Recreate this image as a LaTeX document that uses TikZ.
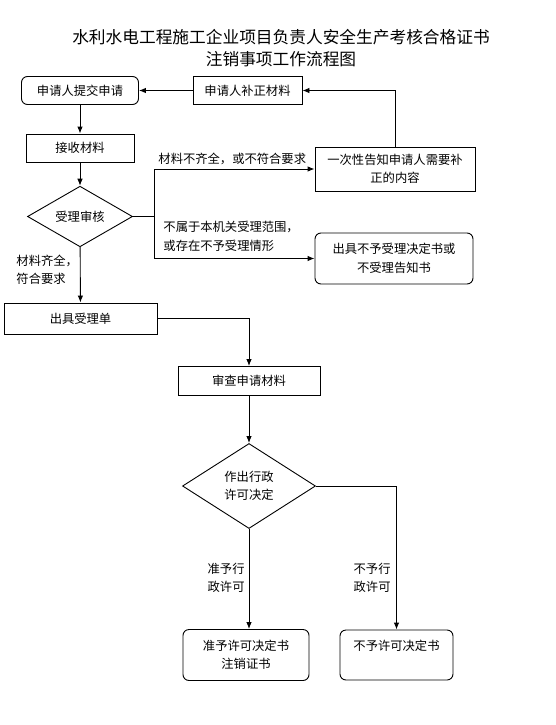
\documentclass[tikz,border=0pt]{standalone}
\usepackage{fontspec}
\setmainfont{Noto Sans CJK SC}
\usetikzlibrary{arrows.meta,shapes.geometric}

\begin{document}
\begin{tikzpicture}[x=1pt,y=-1pt,>={Latex[length=7pt,width=5.5pt]},line width=0.9pt,
  font=\fontsize{12.3}{18.5}\selectfont,
  box/.style={draw,rectangle,inner sep=0pt,align=center},
  rbox/.style={box,rounded corners=6pt},
  choice/.style={draw,diamond,inner sep=0pt,align=center},
  lbl/.style={inner sep=0pt,align=left}]
  \useasboundingbox (0,0) rectangle (556,725);
  \node[font=\fontsize{16.7}{21.5}\selectfont,align=center] (title) at (281,48) {水利水电工程施工企业项目负责人安全生产考核合格证书\\注销事项工作流程图};

  \node[rbox,minimum width=117pt,minimum height=28pt] (submit) at (80,90.5) {申请人提交申请};
  \node[box,minimum width=109pt,minimum height=28pt] (supply) at (247.5,90.5) {申请人补正材料};
  \node[box,minimum width=108pt,minimum height=28pt] (accept) at (80,148) {接收材料};
  \node[choice,minimum width=105pt,minimum height=49pt] (check) at (80,216.5) {受理审核};
  \node[box,minimum width=160pt,minimum height=44pt] (notify) at (395,169) {一次性告知申请人需要补\\正的内容};
  \node[rbox,minimum width=158pt,minimum height=51pt] (refuse) at (394,258.5) {出具不予受理决定书或\\不受理告知书};
  \node[box,minimum width=153pt,minimum height=31pt] (receipt) at (80.5,318.5) {出具受理单};
  \node[box,minimum width=142pt,minimum height=29pt] (review) at (249,381) {审查申请材料};
  \node[choice,minimum width=133pt,minimum height=85pt] (decide) at (249,486) {作出行政\\许可决定};
  \node[rbox,minimum width=126pt,minimum height=51pt] (grant) at (246,655) {准予许可决定书\\注销证书};
  \node[rbox,minimum width=113pt,minimum height=50pt] (deny) at (396.5,655) {不予许可决定书\\\phantom{书}};

  \coordinate (fork) at (154,216.5);

  \draw[->] (supply) -- (submit);
  \draw[->] (submit) -- (accept);
  \draw[->] (accept) -- (check);
  \draw (check.east) -- (fork);
  \draw[->] (fork) |- (notify.west);
  \draw[->] (fork) |- (refuse.west);
  \draw[->] (notify.north) |- (supply.east);
  \draw[->] (check) -- (receipt);
  \draw[->] (receipt.east) -| (review.north);
  \draw[->] (review) -- (decide);
  \draw[->] (decide.south) -- (decide.south |- grant.north);
  \draw[->] (decide.east) -| (deny.north);

  % branch labels
  \node[lbl,anchor=west] (lacking) at (158,158.5) {材料不齐全，或不符合要求};
  \node[lbl,anchor=west] (outside) at (163,236.5) {不属于本机关受理范围，\\或存在不予受理情形};
  \node[lbl,anchor=west] (complete) at (16,270) {材料齐全，\\符合要求};
  \node[lbl,anchor=east] (yes) at (245,578) {准予行\\政许可};
  \node[lbl,anchor=east] (no) at (391,578) {不予行\\政许可};
\end{tikzpicture}
\end{document}
